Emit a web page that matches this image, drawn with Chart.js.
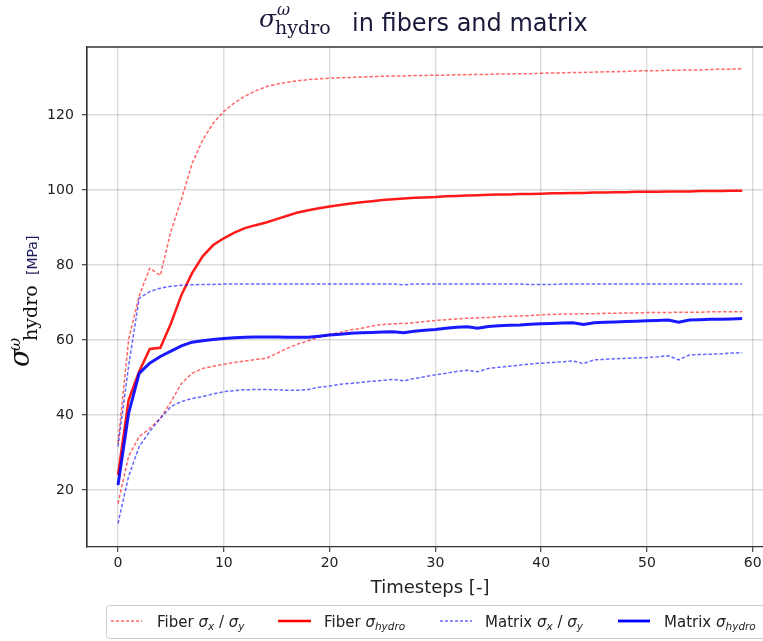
<!DOCTYPE html>
<html>
<head>
<meta charset="utf-8">
<script src="https://cdn.jsdelivr.net/npm/chart.js@4.4.1/dist/chart.umd.min.js"></script>
<style>
  html, body { margin:0; padding:0; overflow:hidden; background:#fff; width:763px; height:641px; }
  #wrap { position:relative; width:763px; height:641px; overflow:hidden; }
  #c { position:absolute; left:0; top:0; }
  #ov { position:absolute; left:0; top:0; pointer-events:none; }
</style>
</head>
<body>
<div id="wrap">
<canvas id="c" width="800" height="641" style="width:800px;height:641px"></canvas>
<svg id="ov" width="763" height="641" xmlns="http://www.w3.org/2000/svg">
  <!-- title -->
  <g fill="#1a1a3a">
    <text x="259" y="27" font-family="DejaVu Serif" font-style="italic" font-size="25">σ</text>
    <text x="277" y="15" font-family="DejaVu Serif" font-style="italic" font-size="16">ω</text>
    <text x="275" y="33.5" font-family="DejaVu Serif" font-size="19">hydro</text>
    <text x="352" y="31" font-family="DejaVu Sans" font-size="24">in fibers and matrix</text>
  </g>
  <!-- y label -->
  <g transform="rotate(-90)">
    <text x="-367" y="29" font-family="DejaVu Serif" font-style="italic" font-size="27" fill="#111">σ</text>
    <text x="-351" y="20" font-family="DejaVu Serif" font-style="italic" font-size="16" fill="#111">ω</text>
    <text x="-341" y="37" font-family="DejaVu Serif" font-size="19" fill="#111">hydro</text>
    <text x="-275" y="37" font-family="DejaVu Sans" font-size="14" fill="#1a1a5a">[MPa]</text>
  </g>
  <!-- legend frame (right side runs past the window edge) -->
  <path d="M 800 605.5 L 109.5 605.5 Q 106.5 605.5 106.5 608.5 L 106.5 635.5 Q 106.5 638.5 109.5 638.5 L 800 638.5" fill="#fff" fill-opacity="0.8" stroke="#cccccc" stroke-width="1"/>
  <line x1="111" y1="621" x2="142" y2="621" stroke="rgba(255,0,0,0.6)" stroke-width="1.5" stroke-dasharray="3 2"/>
  <text x="157" y="627" font-family="DejaVu Sans" font-size="15" fill="#222">Fiber <tspan font-style="italic">σ</tspan><tspan font-style="italic" font-size="10.5" dy="3">x</tspan><tspan dy="-3"> / </tspan><tspan font-style="italic">σ</tspan><tspan font-style="italic" font-size="10.5" dy="3">y</tspan></text>
  <line x1="278" y1="621" x2="311" y2="621" stroke="#ff0000" stroke-width="2.5"/>
  <text x="324" y="627" font-family="DejaVu Sans" font-size="15" fill="#222">Fiber <tspan font-style="italic">σ</tspan><tspan font-style="italic" font-size="10.5" dy="3">hydro</tspan></text>
  <line x1="440" y1="621" x2="472" y2="621" stroke="rgba(0,0,255,0.6)" stroke-width="1.5" stroke-dasharray="3 2"/>
  <text x="485" y="627" font-family="DejaVu Sans" font-size="15" fill="#222">Matrix <tspan font-style="italic">σ</tspan><tspan font-style="italic" font-size="10.5" dy="3">x</tspan><tspan dy="-3"> / </tspan><tspan font-style="italic">σ</tspan><tspan font-style="italic" font-size="10.5" dy="3">y</tspan></text>
  <line x1="618" y1="621" x2="650" y2="621" stroke="#0000ff" stroke-width="2.8"/>
  <text x="664" y="627" font-family="DejaVu Sans" font-size="15" fill="#222">Matrix <tspan font-style="italic">σ</tspan><tspan font-style="italic" font-size="10.5" dy="3">hydro</tspan></text>
</svg>
</div>
<script>
// ---- data ----
const timesteps = [0,1,2,3,4,5,6,7,8,9,10,11,12,13,14,15,16,17,18,19,20,21,22,23,24,25,26,27,28,29,30,31,32,33,34,35,36,37,38,39,40,41,42,43,44,45,46,47,48,49,50,51,52,53,54,55,56,57,58,59];

const fiberSx = [32.5,60,71.8,79.1,77.2,89,97.5,107,113.3,117.8,120.9,123.2,125.0,126.4,127.5,128.2,128.7,129.1,129.4,129.6,129.8,129.9,130.0,130.1,130.2,130.3,130.4,130.4,130.5,130.5,130.6,130.6,130.7,130.7,130.8,130.8,130.9,130.9,131.0,131.0,131.1,131.2,131.2,131.3,131.3,131.4,131.5,131.5,131.6,131.7,131.8,131.8,131.9,131.9,132.0,132.0,132.1,132.2,132.2,132.3];

const fiberSy = [16.4,29,34.2,36.4,39.1,43.5,48.4,51.1,52.4,53.0,53.5,54.0,54.4,54.8,55.1,56.4,57.8,58.9,59.8,60.7,61.5,62.0,62.7,63.1,63.7,64.1,64.3,64.4,64.6,64.9,65.2,65.4,65.6,65.8,65.9,66.0,66.2,66.3,66.4,66.5,66.7,66.8,66.9,66.9,67.0,67.0,67.1,67.1,67.2,67.2,67.3,67.3,67.3,67.4,67.4,67.4,67.5,67.5,67.5,67.5];

const fiberHydro = [24,44,51.6,57.6,57.9,64.4,72,77.8,82.3,85.3,87.1,88.6,89.8,90.6,91.3,92.2,93.1,94.0,94.6,95.1,95.6,96.0,96.4,96.7,97.0,97.3,97.5,97.7,97.9,98.0,98.1,98.3,98.4,98.5,98.6,98.7,98.8,98.8,98.9,98.9,99.0,99.1,99.1,99.2,99.2,99.3,99.3,99.4,99.4,99.5,99.5,99.5,99.6,99.6,99.6,99.7,99.7,99.7,99.8,99.8];

const matrixSx = [31.6,53,71.1,72.9,73.8,74.3,74.6,74.7,74.8,74.8,74.9,74.9,74.9,74.9,74.9,74.9,74.9,74.9,74.9,74.9,74.9,74.9,74.9,74.9,74.9,74.9,74.9,74.7,74.9,74.9,74.9,74.9,74.9,74.9,74.9,74.9,74.9,74.9,74.9,74.8,74.8,74.8,74.9,74.9,74.9,74.9,74.9,74.9,74.9,74.9,74.9,74.9,74.9,74.9,74.9,74.9,74.9,74.9,74.9,74.9];

const matrixSy = [11.1,23.6,31.6,35.6,39.1,42.2,43.6,44.4,44.9,45.6,46.2,46.5,46.7,46.8,46.8,46.7,46.6,46.6,46.8,47.4,47.7,48.2,48.4,48.7,49.0,49.2,49.5,49.1,49.7,50.2,50.7,51.1,51.6,51.9,51.5,52.4,52.7,53.0,53.3,53.6,53.8,54.0,54.2,54.4,53.7,54.7,54.8,55.0,55.1,55.2,55.3,55.5,55.8,54.7,56.0,56.1,56.2,56.3,56.5,56.6];

const matrixHydro = [21.3,40.4,51.1,53.8,55.6,57.0,58.4,59.4,59.8,60.1,60.4,60.6,60.7,60.8,60.8,60.8,60.7,60.7,60.7,61.0,61.3,61.5,61.8,61.9,62.0,62.1,62.2,61.9,62.3,62.6,62.8,63.1,63.4,63.5,63.1,63.6,63.8,63.9,64.0,64.2,64.3,64.4,64.5,64.6,64.1,64.6,64.7,64.8,64.9,65.0,65.1,65.2,65.3,64.7,65.3,65.4,65.5,65.5,65.6,65.7];

const xTicks = [0,10,20,30,40,50,60];
const yTicks = [20,40,60,80,100,120];

// ---- build ----
const pts = arr => timesteps.map((t,i)=>({x:t, y:arr[i]}));

const dashed = (arr, color) => ({
  data: pts(arr), borderColor: color, borderWidth: 1.5, borderDash: [3.5,2], fill:false, pointRadius:0
});
const solid = (arr, color, w) => ({
  data: pts(arr), borderColor: color, borderWidth: w, fill:false, pointRadius:0
});

const frame = {
  id:'frame',
  afterDraw(chart){
    const {ctx, chartArea:a} = chart;
    ctx.save();
    ctx.strokeStyle = '#333';
    ctx.lineWidth = 1.3;
    ctx.beginPath();
    ctx.moveTo(a.left, a.bottom);
    ctx.lineTo(a.left, a.top);
    ctx.lineTo(a.right, a.top);
    ctx.stroke();
    ctx.restore();
  }
};

const gridCfg = {color:'rgba(0,0,0,0.14)', lineWidth:1.4, drawTicks:true, tickLength:5, tickColor:'#333', tickWidth:1.1};
const tickFont = {family:'DejaVu Sans', size:14};

new Chart(document.getElementById('c'), {
  type:'line',
  data:{ datasets:[
    solid(matrixHydro, 'rgba(0,0,255,0.9)', 3),
    dashed(matrixSy, 'rgba(0,0,255,0.6)'),
    dashed(matrixSx, 'rgba(0,0,255,0.6)'),
    solid(fiberHydro, 'rgba(255,0,0,0.9)', 2.5),
    dashed(fiberSy, 'rgba(255,0,0,0.6)'),
    dashed(fiberSx, 'rgba(255,0,0,0.6)')
  ]},
  options:{
    responsive:false, animation:false, devicePixelRatio:1,
    layout:{padding:{left:0, right:26.6, top:47, bottom:0}},
    plugins:{legend:{display:false}, title:{display:false}, tooltip:{enabled:false}},
    elements:{line:{tension:0}, point:{radius:0}},
    scales:{
      x:{
        type:'linear', min:-2.95, max:61.95,
        afterBuildTicks: s => { s.ticks = xTicks.map(v=>({value:v})); },
        afterFit: s => { s.height = 94; },
        grid: gridCfg,
        border:{display:true, color:'#333', width:1.3},
        ticks:{font:tickFont, color:'#222', padding:3, maxRotation:0, autoSkip:false},
        title:{display:true, text:'Timesteps [-]', font:{family:'DejaVu Sans', size:18}, color:'#222', padding:{top:0, bottom:42}}
      },
      y:{
        type:'linear', min:4.8, max:138.1,
        afterBuildTicks: s => { s.ticks = yTicks.map(v=>({value:v})); },
        afterFit: s => { s.width = 86.8; },
        grid: gridCfg,
        border:{display:true, color:'#333', width:1.3},
        ticks:{font:tickFont, color:'#222', padding:8, autoSkip:false}
      }
    }
  },
  plugins:[frame]
});
</script>
</body>
</html>
